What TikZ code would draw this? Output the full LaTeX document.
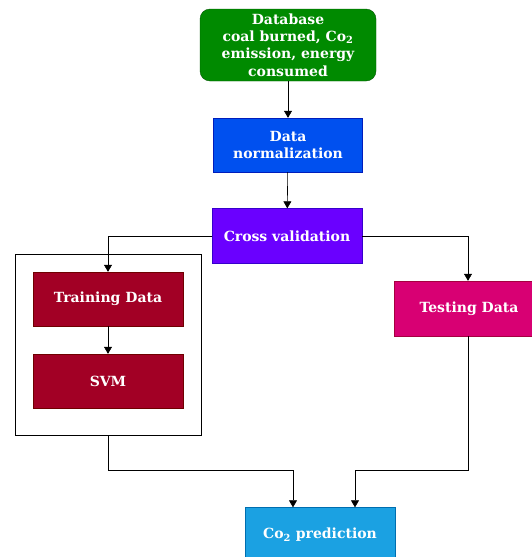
\documentclass[tikz,border=0pt]{standalone}
\usepackage{fontspec}
\setmainfont{DejaVu Serif}
\usetikzlibrary{arrows.meta}
\definecolor{vert}{HTML}{008A00}\definecolor{vertb}{HTML}{005700}
\definecolor{bleu}{HTML}{0050EF}\definecolor{bleub}{HTML}{001DBC}
\definecolor{violet}{HTML}{6A00FF}\definecolor{violetb}{HTML}{3700CC}
\definecolor{carmin}{HTML}{A20025}\definecolor{carminb}{HTML}{6F0000}
\definecolor{magenta}{HTML}{D80073}\definecolor{magentab}{HTML}{A50040}
\definecolor{ciel}{HTML}{1BA1E2}\definecolor{cielb}{HTML}{006EAF}
\begin{document}
\begin{tikzpicture}[x=1pt,y=-1pt]
 \tikzstyle{boite}=[rectangle,draw,text=white,font=\fontsize{14}{17.3}\selectfont\bfseries,align=center,minimum width=150pt,minimum height=55pt,inner sep=1pt]
 \tikzstyle{fleche}=[-{Triangle[length=7pt,width=8pt]},semithick]
 \useasboundingbox (0,0) rectangle (531,557);
 %
 \node[boite,rounded corners=10pt,fill=vert,draw=vertb,minimum width=176pt,minimum height=72pt] (DB) at (288,45) {Database\\ coal burned, Co\textsubscript{2}\\ emission, energy\\ consumed};
 \node[boite,fill=bleu,draw=bleub,minimum width=149pt,minimum height=54pt] (Norm) at (288,145) {Data\\ normalization};
 \node[boite,fill=violet,draw=violetb] (CV) at (287,236) {Cross validation};
 \node[draw,thick,minimum width=186pt,minimum height=181pt] (Cadre) at (108,344.5) {};
 \node[boite,fill=carmin,draw=carminb,minimum height=54pt] (Train) at (108,299) {Training Data};
 \node[boite,fill=carmin,draw=carminb,minimum height=54pt] (SVM) at (108,381) {SVM};
 \node[boite,fill=magenta,draw=magentab] (Test) at (469,308.5) {Testing Data};
 \node[boite,fill=ciel,draw=cielb] (Pred) at (320,535) {Co\textsubscript{2} prediction};
 \coordinate (J1) at (108,470);
 \coordinate (J2) at (468,470);
 %
 \draw[fleche] (DB)--(Norm);
 \draw[fleche] (Norm)--(CV);
 \draw[fleche] (CV.west) -| (Train.north);
 \draw[fleche] (CV.east) -| ([xshift=-1pt]Test.north);
 \draw[fleche] (Train)--(SVM);
 \draw[fleche] (Cadre.south) -- (J1) -| ([xshift=-27pt]Pred.north);
 \draw[fleche] ([xshift=-1pt]Test.south) -- (J2) -| ([xshift=35pt]Pred.north);
\end{tikzpicture}
\end{document}
